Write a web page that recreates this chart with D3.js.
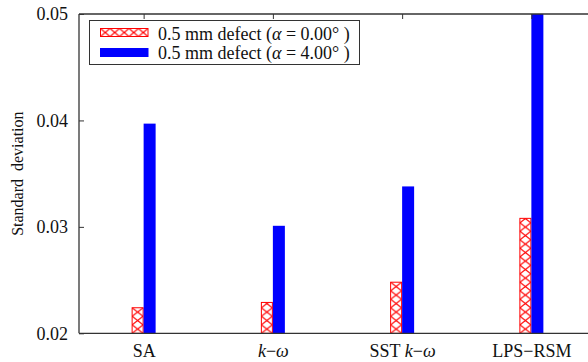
<!DOCTYPE html>
<html>
<head>
<meta charset="utf-8">
<script src="https://cdn.jsdelivr.net/npm/d3@7"></script>
<style>
  html, body { margin: 0; padding: 0; background: #fff; }
  svg { display: block; }
  svg text { font-family: "Liberation Serif", "Times New Roman", serif; }
</style>
</head>
<body>
<svg id="chart" width="588" height="362"></svg>
<script>
// Turbulence models compared
const categories = ["SA", "k-omega", "SST k-omega", "LPS-RSM"];
// Standard deviation for the 0.5 mm defect at two angles of attack
const alpha0Values = [0.0224, 0.0229, 0.0248, 0.0308];
const alpha4Values = [0.0397, 0.0301, 0.0338, 0.0500];
const yTicks = [0.02, 0.03, 0.04, 0.05];
const seriesNames = ["0.5 mm defect", "0.5 mm defect"];
const seriesAngles = ["0.00°", "4.00°"];

const svg = d3.select("#chart");
const pLeft = 79, pRight = 596, pTop = 14, pBottom = 333.3;
const axisColor = "#333";
const serif = "Liberation Serif, Times New Roman, serif";

const x = d3.scaleBand().domain(categories).range([pLeft, pRight]).padding(0);
const y = d3.scaleLinear().domain([0.02, 0.05]).range([pBottom, pTop]);
const barW = 12;
const centre = c => x(c) + x.bandwidth() / 2;

// Cross-hatch patterns, one per red bar so the diamonds start at the bar edge
const defs = svg.append("defs");
function hatch(id, x0, y0, w, h) {
  const p = defs.append("pattern").attr("id", id)
    .attr("patternUnits", "userSpaceOnUse")
    .attr("x", x0).attr("y", y0).attr("width", w).attr("height", h);
  p.append("rect").attr("width", w).attr("height", h).attr("fill", "#fff");
  p.append("path")
    .attr("d", `M0,0L${w},${h}M${w},0L0,${h}`)
    .attr("stroke", "#ff0000").attr("stroke-width", 1.2).attr("fill", "none");
}

const clip = defs.append("clipPath").attr("id", "plotclip");
clip.append("rect").attr("x", pLeft).attr("y", pTop).attr("width", pRight - pLeft).attr("height", pBottom - pTop);

const plot = svg.append("g");

// Red hatched bars (alpha = 0)
categories.forEach((c, i) => {
  hatch("hatch" + i, centre(c) - barW + 0.5, pBottom, barW - 1, 8.5);
});
plot.selectAll("rect.a0").data(alpha0Values).join("rect")
  .attr("class", "a0")
  .attr("x", (d, i) => centre(categories[i]) - barW + 0.5)
  .attr("y", d => y(d))
  .attr("width", barW - 1)
  .attr("height", d => pBottom - y(d))
  .attr("fill", (d, i) => `url(#hatch${i})`)
  .attr("stroke", "#ff0000")
  .attr("stroke-width", 1);

// Solid blue bars (alpha = 4)
plot.selectAll("rect.a4").data(alpha4Values).join("rect")
  .attr("class", "a4")
  .attr("clip-path", "url(#plotclip)")
  .attr("x", (d, i) => centre(categories[i]))
  .attr("y", d => y(d))
  .attr("width", barW)
  .attr("height", d => pBottom - y(d))
  .attr("fill", "#0000ff");

// Axes frame
const gAx = svg.append("g").attr("stroke", axisColor).attr("stroke-width", 1.3).attr("fill", "none");
gAx.append("line").attr("x1", pLeft).attr("x2", pRight).attr("y1", pTop).attr("y2", pTop);
gAx.append("line").attr("x1", pLeft).attr("x2", pRight).attr("y1", pBottom).attr("y2", pBottom);
gAx.append("line").attr("x1", pLeft).attr("x2", pLeft).attr("y1", pTop).attr("y2", pBottom);

// Y axis with inward ticks
const yAxis = d3.axisLeft(y).tickValues(yTicks).tickFormat(d3.format(".2f")).tickSizeInner(-5).tickSizeOuter(0).tickPadding(11);
const gy = svg.append("g").attr("transform", `translate(${pLeft},0)`).call(yAxis)
  .attr("font-family", serif).attr("font-size", 18);
gy.select(".domain").remove();
gy.selectAll(".tick line").attr("stroke", axisColor).attr("stroke-width", 1);
gy.selectAll(".tick text").attr("fill", "#111");

// Top axis ticks at category centres
const xCenter = d3.scalePoint().domain(categories).range([centre(categories[0]), centre(categories[3])]);
const xTop = d3.axisTop(xCenter).tickSizeInner(-5).tickSizeOuter(0).tickFormat("");
const gt = svg.append("g").attr("transform", `translate(0,${pTop})`).call(xTop);
gt.select(".domain").remove();
gt.selectAll(".tick line").attr("stroke", axisColor).attr("stroke-width", 1);

// Bottom axis labels
const xBot = d3.axisBottom(xCenter).tickSize(0).tickFormat("");
const gb = svg.append("g").attr("transform", `translate(0,${pBottom})`).call(xBot)
  .attr("font-family", serif).attr("font-size", 18);
gb.select(".domain").remove();
function labelParts(c) {
  if (c === "k-omega") return [["k", true], ["\u2212", false], ["\u03c9", true]];
  if (c === "SST k-omega") return [["SST ", false], ["k", true], ["\u2212", false], ["\u03c9", true]];
  if (c === "LPS-RSM") return [["LPS\u2212RSM", false]];
  return [[c, false]];
}
gb.selectAll(".tick").each(function(c) {
  const t = d3.select(this).append("text")
    .attr("y", 24).attr("text-anchor", "middle").attr("fill", "#111");
  labelParts(c).forEach(([s, it]) => {
    t.append("tspan").attr("font-style", it ? "italic" : "normal").text(s);
  });
});

// Y axis title
svg.append("text")
  .attr("transform", `translate(23,${(pTop + pBottom) / 2}) rotate(-90)`)
  .attr("text-anchor", "middle")
  .attr("font-size", 16).attr("fill", "#111")
  .attr("xml:space", "preserve")
  .text("Standard  deviation");

// Legend
const lg = svg.append("g");
lg.append("rect").attr("x", 89.5).attr("y", 20.5).attr("width", 270).attr("height", 44)
  .attr("fill", "#fff").attr("stroke", axisColor).attr("stroke-width", 1);
hatch("hatchLegend", 100.5, 28.5, 9.5, 8);
lg.append("rect").attr("x", 100.5).attr("y", 28.5).attr("width", 47.5).attr("height", 8)
  .attr("fill", "url(#hatchLegend)").attr("stroke", "#ff0000").attr("stroke-width", 1);
lg.append("rect").attr("x", 100).attr("y", 48).attr("width", 48.5).attr("height", 9)
  .attr("fill", "#0000ff");
[0, 1].forEach(i => {
  const t = lg.append("text").attr("x", 158).attr("y", 39.5 + i * 19.5)
    .attr("font-size", 18).attr("fill", "#111");
  t.append("tspan").text(seriesNames[i] + " (");
  t.append("tspan").attr("font-style", "italic").text("\u03b1");
  t.append("tspan").text(" = " + seriesAngles[i] + " )");
});
</script>
</body>
</html>
